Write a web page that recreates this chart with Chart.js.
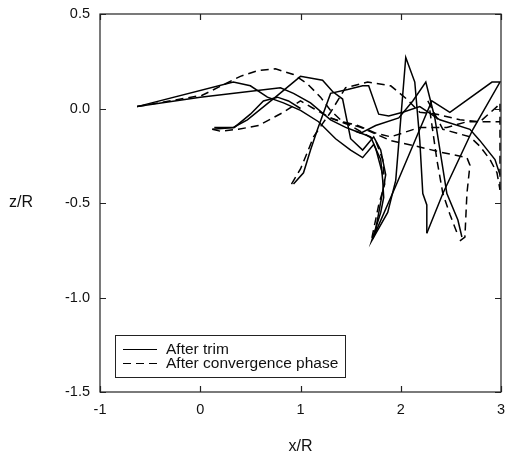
<!DOCTYPE html>
<html>
<head>
<meta charset="utf-8">
<script src="https://cdn.jsdelivr.net/npm/chart.js@4.4.1/dist/chart.umd.min.js"></script>
<style>
  html, body { margin: 0; padding: 0; background: #fff; }
  #wrap { width: 505px; height: 461px; }
</style>
</head>
<body>
<div id="wrap"><canvas id="myChart" width="505" height="461"></canvas></div>
<script>
// tick labels
var xTicks = [-1, 0, 1, 2, 3];
var yTicks = [0.5, 0.0, -0.5, -1.0, -1.5];

// "After trim" curves (solid)
var trim1X = [-0.63, 0.33, 0.50, 0.67, 0.83, 1.00, 1.18, 1.35, 1.50, 1.62, 1.73, 1.80, 1.82, 1.83, 1.80, 1.71, 1.87, 1.95, 2.05, 2.14, 2.19, 2.22, 2.26, 2.26];
var trim1Z = [0.01, 0.14, 0.12, 0.06, 0.03, -0.01, -0.07, -0.16, -0.22, -0.26, -0.19, -0.27, -0.38, -0.47, -0.55, -0.70, -0.55, -0.38, 0.27, 0.14, -0.17, -0.45, -0.51, -0.66];
var trim2X = [-0.63, 0.00, 0.80, 0.93, 1.10, 1.30, 1.45, 1.60, 1.75, 1.98, 2.12, 2.25, 2.34, 2.46, 2.57, 2.61];
var trim2Z = [0.01, 0.06, 0.11, 0.08, 0.03, -0.06, -0.10, -0.13, -0.09, -0.05, 0.04, 0.14, -0.05, -0.45, -0.59, -0.68];
var trim3X = [0.14, 0.33, 0.47, 0.75, 1.00, 1.22, 1.32, 1.42, 1.50, 1.62, 1.73, 1.80, 1.85, 1.75, 1.72, 1.95, 2.19, 2.31, 2.49, 2.91, 2.99, 2.72, 2.42, 2.26];
var trim3Z = [-0.10, -0.10, -0.06, 0.06, 0.17, 0.15, 0.09, 0.05, -0.16, -0.22, -0.15, -0.22, -0.35, -0.64, -0.69, -0.41, -0.11, 0.04, -0.02, 0.14, 0.14, -0.11, -0.45, -0.66];
var trim4X = [0.93, 1.03, 1.10, 1.17, 1.30, 1.47, 1.62, 1.68, 1.78, 1.88, 2.02, 2.19, 2.39, 2.69, 2.79, 2.94, 2.99];
var trim4Z = [-0.40, -0.34, -0.22, -0.11, 0.08, 0.10, 0.12, 0.12, -0.03, -0.04, -0.02, 0.01, -0.06, -0.11, -0.17, -0.27, -0.35];
var trim5X = [0.12, 0.34, 0.50, 0.63, 0.77, 0.88, 1.00];
var trim5Z = [-0.11, -0.10, -0.03, 0.04, 0.06, 0.04, 0.00];
var trim6X = [1.55, 1.70, 1.75, 1.82];
var trim6Z = [-0.12, -0.15, -0.21, -0.35];

// "After convergence phase" curves (dashed)
var conv1X = [-0.63, 0.02, 0.40, 0.57, 0.75, 0.93, 1.07, 1.20, 1.30, 1.42, 1.57, 1.75, 1.90, 2.19, 2.46, 2.66, 2.99];
var conv1Z = [0.01, 0.07, 0.17, 0.20, 0.21, 0.18, 0.13, 0.06, -0.01, -0.07, -0.09, -0.13, -0.15, -0.10, -0.10, -0.07, -0.07];
var conv2X = [0.12, 0.20, 0.38, 0.58, 0.83, 1.00, 1.13, 1.30, 1.50, 1.75, 1.82, 1.84, 1.78, 1.71];
var conv2Z = [-0.11, -0.12, -0.11, -0.09, -0.02, 0.04, 0.00, -0.05, -0.09, -0.17, -0.27, -0.40, -0.51, -0.69];
var conv3X = [0.91, 1.00, 1.07, 1.13, 1.22, 1.30, 1.45, 1.67, 1.90, 2.06, 2.19, 2.36, 2.59, 2.79, 2.96, 2.99, 2.99];
var conv3Z = [-0.40, -0.32, -0.23, -0.15, -0.08, -0.02, 0.11, 0.14, 0.12, 0.05, -0.02, -0.03, -0.06, -0.07, 0.01, 0.03, -0.45];
var conv4X = [1.30, 1.60, 1.90, 2.16, 2.39, 2.66, 2.69, 2.66, 2.64, 2.59];
var conv4Z = [-0.05, -0.10, -0.17, -0.20, -0.23, -0.26, -0.30, -0.45, -0.68, -0.70];
var conv5X = [2.27, 2.42, 2.69, 2.79, 2.89, 2.96, 2.99];
var conv5Z = [0.04, -0.11, -0.15, -0.20, -0.27, -0.34, -0.43];
var conv6X = [2.29, 2.36, 2.42, 2.49, 2.57];
var conv6Z = [-0.01, -0.27, -0.45, -0.56, -0.67];

var trimCurves = [[trim1X, trim1Z], [trim2X, trim2Z], [trim3X, trim3Z], [trim4X, trim4Z], [trim5X, trim5Z], [trim6X, trim6Z]];
var convCurves = [[conv1X, conv1Z], [conv2X, conv2Z], [conv3X, conv3Z], [conv4X, conv4Z], [conv5X, conv5Z], [conv6X, conv6Z]];

var FONT = '"Liberation Sans", Arial, Helvetica, sans-serif';
var DASH = [8, 5];

function pts(xs, zs) {
  return xs.map(function (v, i) { return {x: v, y: zs[i]}; });
}

var datasets = [];
trimCurves.forEach(function (c) {
  datasets.push({data: pts(c[0], c[1]), borderColor: '#000', borderWidth: 1.5, borderDash: [], showLine: true, pointRadius: 0, tension: 0});
});
convCurves.forEach(function (c) {
  datasets.push({data: pts(c[0], c[1]), borderColor: '#000', borderWidth: 1.5, borderDash: DASH, showLine: true, pointRadius: 0, tension: 0});
});

// frame, inward ticks, legend box and axis titles
var framePlugin = {
  id: 'frame',
  afterDraw: function (chart) {
    var ctx = chart.ctx, a = chart.chartArea, sx = chart.scales.x, sy = chart.scales.y;
    ctx.save();
    ctx.strokeStyle = '#222';
    ctx.lineWidth = 1.2;
    ctx.strokeRect(a.left, a.top, a.right - a.left, a.bottom - a.top);
    ctx.beginPath();
    xTicks.forEach(function (v) {
      var px = Math.round(sx.getPixelForValue(v)) + 0.5;
      ctx.moveTo(px, a.bottom); ctx.lineTo(px, a.bottom - 6);
      ctx.moveTo(px, a.top); ctx.lineTo(px, a.top + 6);
    });
    yTicks.forEach(function (v) {
      var py = Math.round(sy.getPixelForValue(v)) + 0.5;
      ctx.moveTo(a.left, py); ctx.lineTo(a.left + 6, py);
      ctx.moveTo(a.right, py); ctx.lineTo(a.right - 6, py);
    });
    ctx.stroke();

    // legend
    var lx = a.left + 15, ly = a.bottom - 57, lw = 230, lh = 42;
    ctx.fillStyle = '#fff';
    ctx.fillRect(lx, ly, lw, lh);
    ctx.lineWidth = 1;
    ctx.strokeStyle = '#222';
    ctx.strokeRect(lx + 0.5, ly + 0.5, lw, lh);
    ctx.strokeStyle = '#000';
    ctx.lineWidth = 1.2;
    ctx.beginPath();
    ctx.moveTo(lx + 8, ly + 14.5); ctx.lineTo(lx + 42, ly + 14.5);
    ctx.stroke();
    ctx.setLineDash(DASH);
    ctx.beginPath();
    ctx.moveTo(lx + 8, ly + 28.5); ctx.lineTo(lx + 46, ly + 28.5);
    ctx.stroke();
    ctx.setLineDash([]);
    ctx.fillStyle = '#111';
    ctx.font = '15.5px ' + FONT;
    ctx.textAlign = 'left';
    ctx.textBaseline = 'middle';
    ctx.fillText('After trim', lx + 51, ly + 14.5);
    ctx.fillText('After convergence phase', lx + 51, ly + 28.5);

    // axis titles
    ctx.font = '16px ' + FONT;
    ctx.textAlign = 'center';
    ctx.fillText('x/R', (a.left + a.right) / 2, 447);
    ctx.fillText('z/R', 21, sy.getPixelForValue(-0.5));
    ctx.restore();
  }
};

new Chart(document.getElementById('myChart'), {
  type: 'scatter',
  data: {datasets: datasets},
  options: {
    responsive: false,
    animation: false,
    layout: {padding: {left: 0, right: 4, top: 14, bottom: 0}},
    plugins: {legend: {display: false}, tooltip: {enabled: false}},
    scales: {
      x: {
        type: 'linear', min: -1, max: 3,
        afterFit: function (s) { s.height = 69; s.paddingLeft = 0; s.paddingRight = 0; },
        afterBuildTicks: function (s) { s.ticks = xTicks.map(function (v) { return {value: v}; }); },
        grid: {display: false, drawTicks: false},
        border: {display: false},
        ticks: {
          padding: 9, color: '#111', font: {family: FONT, size: 14.5},
          callback: function (v) { return String(v); }
        }
      },
      y: {
        type: 'linear', min: -1.5, max: 0.5,
        afterFit: function (s) { s.width = 100; s.paddingTop = 0; s.paddingBottom = 0; },
        afterBuildTicks: function (s) { s.ticks = yTicks.map(function (v) { return {value: v}; }); },
        grid: {display: false, drawTicks: false},
        border: {display: false},
        ticks: {
          padding: 10, color: '#111', font: {family: FONT, size: 14.5},
          callback: function (v) { return Number(v).toFixed(1); }
        }
      }
    }
  },
  plugins: [framePlugin]
});
</script>
</body>
</html>
